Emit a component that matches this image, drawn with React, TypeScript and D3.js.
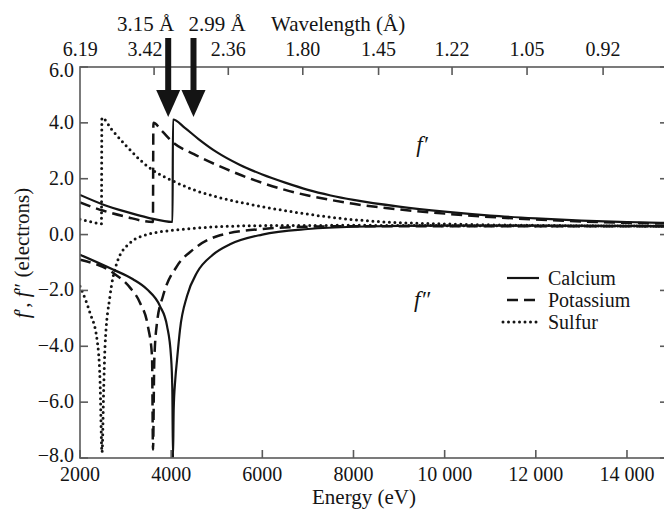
import React from "react";
import * as d3 from "d3";

// energies in eV, values in electrons
const energyTicks = [2000, 4000, 6000, 8000, 10000, 12000, 14000];
const energyLabels = ["2000", "4000", "6000", "8000", "10 000", "12 000", "14 000"];
const yTicks = [6, 4, 2, 0, -2, -4, -6, -8];
const wavelengthTicks = [6.19, 3.42, 2.36, 1.8, 1.45, 1.22, 1.05, 0.92];
const arrowEnergies = [3935, 4490];
const arrowLabels = ["3.15 Å", "2.99 Å"];

const calciumUpper = [
  [2000, 1.42], [2500, 1.08], [3000, 0.82], [3500, 0.6], [4030, 0.45], [4040, 4.12],
  [4300, 3.82], [4600, 3.42], [5000, 2.95], [5500, 2.5], [6000, 2.15], [6500, 1.86],
  [7000, 1.6], [7500, 1.4], [8000, 1.24], [9000, 1.0], [10000, 0.82], [11000, 0.68],
  [12000, 0.58], [13000, 0.5], [14000, 0.45], [15000, 0.41],
];
const potassiumUpper = [
  [2000, 1.15], [2500, 0.86], [3000, 0.64], [3600, 0.45], [3610, 4.0], [3800, 3.7],
  [4040, 3.3], [4500, 2.88], [5200, 2.35], [6000, 1.85], [6500, 1.6], [7000, 1.4],
  [7500, 1.24], [8000, 1.1], [9000, 0.9], [10000, 0.75], [11000, 0.63], [12000, 0.54],
  [13000, 0.47], [14000, 0.42], [15000, 0.39],
];
const sulfurUpper = [
  [2000, 0.55], [2250, 0.45], [2470, 0.39], [2480, 4.18], [2700, 3.75], [3000, 3.2],
  [3300, 2.7], [3600, 2.3], [4000, 1.95], [4500, 1.6], [5000, 1.35], [6000, 1.0],
  [6800, 0.78], [7500, 0.62], [8500, 0.47], [10000, 0.38], [12000, 0.33], [15000, 0.3],
];
const calciumLower = [
  [2000, -0.72], [2724, -1.25], [3163, -1.6], [3470, -1.96], [3755, -2.56], [3909, -3.27],
  [3996, -4.35], [4025, -5.5], [4040, -8.0], [4055, -6.3], [4090, -5.2], [4128, -4.5],
  [4194, -3.4], [4348, -2.2], [4567, -1.36], [4918, -0.72], [5291, -0.35], [6000, 0.0],
  [7000, 0.2], [8000, 0.28], [10000, 0.32], [12000, 0.32], [15000, 0.3],
];
const potassiumLower = [
  [2000, -0.9], [2724, -1.37], [3097, -1.9], [3316, -2.44], [3492, -3.3], [3580, -4.35],
  [3602, -7.7], [3630, -4.5], [3690, -3.15], [3821, -2.2], [4128, -1.13], [4479, -0.54],
  [5006, -0.06], [6000, 0.2], [7000, 0.28], [8000, 0.3], [10000, 0.3], [15000, 0.3],
];
const sulfurLower = [
  [2000, -1.85], [2219, -2.8], [2373, -3.75], [2439, -5.2], [2483, -7.8], [2520, -5.5],
  [2549, -4.0], [2658, -2.2], [2812, -1.0], [3097, -0.3], [3470, 0.0], [4194, 0.18],
  [5000, 0.28], [6000, 0.32], [8000, 0.33], [10000, 0.32], [15000, 0.3],
];

const seriesNames = ["Calcium", "Potassium", "Sulfur"];

const FONT = "Liberation Serif, Tinos, Times New Roman, Times, Noto Serif, DejaVu Serif, FreeSerif, serif";
const INK = "#141414";
const AXIS = "#5a5a5a";

const styles = [
  { width: 2.2, dash: null, cap: "butt" },
  { width: 2.5, dash: "11,6", cap: "butt" },
  { width: 3, dash: "0,5.5", cap: "round" },
];

function T(props: any) {
  return <text fontFamily={FONT} fill={INK} {...props} />;
}

export default function App() {
  const x = d3.scaleLinear().domain([2000, 14900]).range([80, 668]);
  const y = d3.scaleLinear().domain([-8, 6]).range([458, 67]);
  const line = d3
    .line<number[]>()
    .x(d => x(d[0]))
    .y(d => y(d[1]))
    .curve(d3.curveMonotoneX);

  const curves = [
    [calciumUpper, 0], [potassiumUpper, 1], [sulfurUpper, 2],
    [calciumLower, 0], [potassiumLower, 1], [sulfurLower, 2],
  ] as [number[][], number][];

  const [x0, x1] = x.range();
  const [yb, yt] = y.range();
  const fmt = (v: number) => v.toFixed(1).replace("-", "\u2212");

  return (
    <svg width={664} height={511}
      style={{ position: "absolute", left: 0, top: 0, background: "#fff" }}>
      <defs>
        <clipPath id="plot">
          <rect x={x0} y={yt} width={x1 - x0} height={yb - yt} />
        </clipPath>
      </defs>

      <g clipPath="url(#plot)">
        {curves.map(([data, s], i) => (
          <path key={i} d={line(data) || ""} fill="none" stroke={INK}
            strokeWidth={styles[s].width}
            strokeDasharray={styles[s].dash || undefined}
            strokeLinecap={styles[s].cap as any} />
        ))}
      </g>

      {/* frame */}
      <rect x={x0} y={yt} width={x1 - x0} height={yb - yt} fill="none" stroke={AXIS} strokeWidth={1.6} />

      {/* bottom axis */}
      {energyTicks.map((t, i) => (
        <g key={t}>
          <line x1={x(t)} x2={x(t)} y1={yb} y2={yb - 8} stroke={AXIS} strokeWidth={1.6} />
          <T x={x(t)} y={481} textAnchor="middle" fontSize={20}>{energyLabels[i]}</T>
        </g>
      ))}
      <T x={364} y={504} textAnchor="middle" fontSize={21}>Energy (eV)</T>

      {/* left / right axes */}
      {yTicks.map(t => (
        <g key={t}>
          <line x1={x0} x2={x0 + 8} y1={y(t)} y2={y(t)} stroke={AXIS} strokeWidth={1.6} />
          <line x1={x1} x2={x1 - 8} y1={y(t)} y2={y(t)} stroke={AXIS} strokeWidth={1.6} />
          <T x={74} y={y(t) + (t === -8 ? 4 : t === 6 ? 10 : 6)} textAnchor="end" fontSize={20}>{fmt(t)}</T>
        </g>
      ))}
      <T transform="translate(29,253) rotate(-90)" textAnchor="middle" fontSize={21}>
        <tspan fontStyle="italic">f</tspan>{"\u2032, "}<tspan fontStyle="italic">f</tspan>{"\u2033 (electrons)"}
      </T>

      {/* top axis: wavelength */}
      {wavelengthTicks.map((w, i) => {
        const e = 12398 / w;
        return (
          <g key={w}>
            {i > 0 && <line x1={x(e)} x2={x(e)} y1={yt} y2={yt + 8} stroke={AXIS} strokeWidth={1.6} />}
            <T x={x(e) + (w === 3.42 ? -9 : 0)} y={56} textAnchor="middle" fontSize={20}>
              {w.toFixed(2)}
            </T>
          </g>
        );
      })}
      <T x={271} y={31} fontSize={21}>Wavelength (Å)</T>

      {/* arrows */}
      {arrowEnergies.map((e, i) => {
        const ax = x(e);
        return (
          <g key={e}>
            <rect x={ax - 3} y={38} width={6} height={54} fill={INK} />
            <path d={`M${ax - 12},90L${ax + 12},90L${ax},117Z`} fill={INK} />
            <T x={i === 0 ? ax + 6 : ax - 5} y={31} textAnchor={i === 0 ? "end" : "start"}
              fontSize={21}>{arrowLabels[i]}</T>
          </g>
        );
      })}

      {/* curve labels */}
      <T x={422} y={152} textAnchor="middle" fontSize={23} fontStyle="italic">f′</T>
      <T x={422} y={307} textAnchor="middle" fontSize={23} fontStyle="italic">f″</T>

      {/* legend */}
      {seriesNames.map((n, i) => (
        <g key={n} transform={`translate(0,${278 + i * 22})`}>
          <line x1={i === 2 ? 503 : 507} x2={539} y1={0} y2={0} stroke={INK}
            strokeWidth={styles[i].width}
            strokeDasharray={styles[i].dash || undefined}
            strokeLinecap={styles[i].cap as any} />
          <T x={548} y={7} fontSize={20}>{n}</T>
        </g>
      ))}
    </svg>
  );
}
